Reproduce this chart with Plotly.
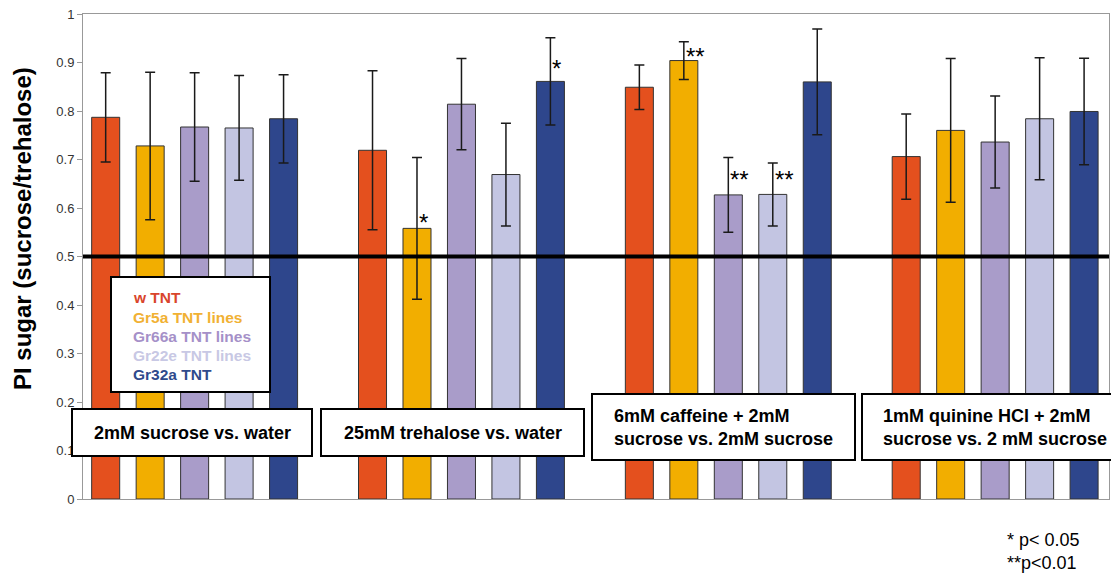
import plotly.graph_objects as go

# ---------------- data ----------------
genotypes = ["w TNT", "Gr5a TNT lines", "Gr66a TNT lines", "Gr22e TNT lines", "Gr32a TNT"]
conditions = ["2mM sucrose vs. water",
              "25mM trehalose vs. water",
              "6mM caffeine + 2mM<br>sucrose vs. 2mM sucrose",
              "1mM quinine HCl + 2mM<br>sucrose vs. 2 mM sucrose"]

w_tnt = [0.787, 0.719, 0.849, 0.706]
w_tnt_err = [0.092, 0.164, 0.046, 0.088]
gr5a = [0.728, 0.558, 0.904, 0.760]
gr5a_err = [0.152, 0.146, 0.039, 0.148]
gr66a = [0.767, 0.814, 0.627, 0.736]
gr66a_err = [0.112, 0.094, 0.077, 0.095]
gr22e = [0.765, 0.669, 0.628, 0.784]
gr22e_err = [0.108, 0.106, 0.065, 0.126]
gr32a = [0.784, 0.861, 0.860, 0.799]
gr32a_err = [0.091, 0.090, 0.109, 0.110]

# significance markers: (condition index, genotype index, label, y position)
sig_cond = [1, 1, 2, 2, 2]
sig_geno = [1, 4, 1, 2, 3]
sig_text = ["*", "*", "**", "**", "**"]
sig_y = [0.582, 0.899, 0.925, 0.672, 0.672]

y_ticks = [0, 0.1, 0.2, 0.3, 0.4, 0.5, 0.6, 0.7, 0.8, 0.9, 1]
y_tick_labels = ["0", "0.1", "0.2", "0.3", "0.4", "0.5", "0.6", "0.7", "0.8", "0.9", "1"]
reference_level = 0.5
footnote = "* p< 0.05<br>**p<0.01"
y_title = "PI sugar (sucrose/trehalose)"

# ---------------- styling ----------------
values = [w_tnt, gr5a, gr66a, gr22e, gr32a]
errors = [w_tnt_err, gr5a_err, gr66a_err, gr22e_err, gr32a_err]
bar_colors = ["#E4501E", "#F2AE00", "#A99CC9", "#C3C5E2", "#2E468C"]
legend_colors = ["#D9452B", "#F1B133", "#A590C8", "#C8C8E4", "#2F4A8C"]
FONT = "Liberation Sans, Arial, sans-serif"

OFF = 8                      # page body margin
W, H = 1119 - OFF, 575 - OFF
L, R, T, B = 75, 10, 6, 76
PW, PH = W - L - R, H - T - B


def px_x(px):
    """page pixel x -> paper coordinate"""
    return (px - OFF - L) / PW


def px_y(py):
    """page pixel y -> paper coordinate"""
    return (H - B - (py - OFF)) / PH


GROUP_STEP = 6  # x units between condition groups


def bar_x(c, g):
    return c * GROUP_STEP + (g - 2)


fig = go.Figure()
for g, name in enumerate(genotypes):
    fig.add_trace(go.Bar(
        x=[bar_x(c, g) for c in range(len(conditions))],
        y=values[g],
        width=0.63,
        name=name,
        marker=dict(color=bar_colors[g], line=dict(color="#333333", width=1)),
        error_y=dict(type="data", array=errors[g], visible=True,
                     color="#1a1a1a", thickness=1.5, width=5),
        showlegend=False,
    ))

shapes = []
annotations = []

# reference line at 0.5
shapes.append(dict(type="line", xref="paper", yref="y", x0=0, x1=1,
                   y0=reference_level, y1=reference_level,
                   line=dict(color="black", width=4), layer="above"))

# legend box
shapes.append(dict(type="rect", xref="paper", yref="paper",
                   x0=px_x(111), x1=px_x(270), y0=px_y(392), y1=px_y(277),
                   line=dict(color="black", width=2), fillcolor="white", layer="above"))
for g, name in enumerate(genotypes):
    annotations.append(dict(text="<b>%s</b>" % name, xref="paper", yref="paper",
                            x=px_x(131), y=px_y(298 + 19 * g), xanchor="left", yanchor="middle",
                            showarrow=False, font=dict(family=FONT, size=15.5, color=legend_colors[g])))

# condition boxes (left, right, top, bottom in page px), text alignment
box_geom = [(72, 312, 409, 456), (321, 584, 409, 456), (592, 855, 394, 460), (862, 1117, 394, 460)]
box_align = ["center", "center", "left", "left"]
box_text_left = [0, 0, 612, 881]
for c, cond in enumerate(conditions):
    x0, x1, y0, y1 = box_geom[c]
    shapes.append(dict(type="rect", xref="paper", yref="paper",
                       x0=px_x(x0), x1=px_x(x1), y0=px_y(y1), y1=px_y(y0),
                       line=dict(color="black", width=2), fillcolor="white", layer="above"))
    if box_align[c] == "center":
        ax, anchor = px_x((x0 + x1) / 2), "center"
    else:
        ax, anchor = px_x(box_text_left[c]), "left"
    annotations.append(dict(text="<b>%s</b>" % cond, xref="paper", yref="paper",
                            x=ax, y=px_y((y0 + y1) / 2), xanchor=anchor, yanchor="middle",
                            align="left", showarrow=False,
                            font=dict(family=FONT, size=18, color="black")))

# significance stars
for c, g, t, yv in zip(sig_cond, sig_geno, sig_text, sig_y):
    annotations.append(dict(text=t, xref="x", yref="y", x=bar_x(c, g), y=yv,
                            xanchor="left", yanchor="middle", xshift=0, yshift=-6,
                            showarrow=False, font=dict(family=FONT, size=24, color="black")))

# y title
annotations.append(dict(text="<b>%s</b>" % y_title, xref="paper", yref="paper",
                        x=px_x(22), y=px_y(229), textangle=-90, xanchor="center", yanchor="middle",
                        showarrow=False, font=dict(family=FONT, size=24, color="black")))

# footnote
annotations.append(dict(text=footnote, xref="paper", yref="paper",
                        x=px_x(1005), y=px_y(551), xanchor="left", yanchor="middle",
                        align="left", showarrow=False,
                        font=dict(family=FONT, size=18, color="black")))

fig.update_layout(
    width=W, height=H,
    margin=dict(l=L, r=R, t=T, b=B, pad=0, autoexpand=False),
    paper_bgcolor="white", plot_bgcolor="white",
    barmode="overlay",
    shapes=shapes, annotations=annotations,
    xaxis=dict(range=[-2.51, 20.56], showticklabels=False, ticks="", showgrid=False,
               zeroline=False, showline=True, linecolor="#999999", linewidth=1, mirror=True,
               automargin=False),
    yaxis=dict(range=[0, 1], tickvals=y_ticks, ticktext=y_tick_labels, ticks="outside",
               ticklen=5, tickcolor="#999999", showgrid=False, zeroline=False,
               showline=True, linecolor="#999999", linewidth=1, mirror=True,
               ticklabeloverflow="allow", automargin=False,
               tickfont=dict(family=FONT, size=13, color="#333333")),
)

fig.write_html("out.html")
